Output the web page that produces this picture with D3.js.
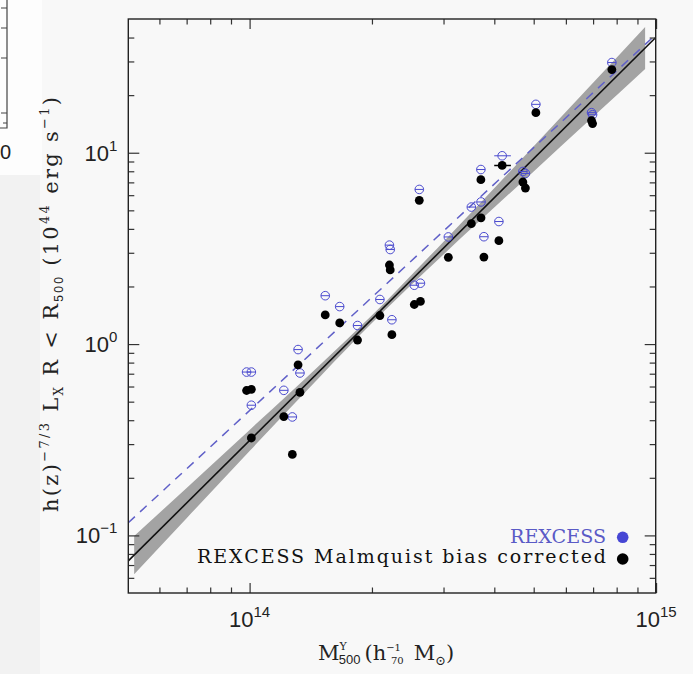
<!DOCTYPE html>
<html>
<head>
<meta charset="utf-8">
<script src="https://d3js.org/d3.v7.min.js"></script>
<style>
  body { margin: 0; background: #f8f8f8; }
  svg { display: block; }
  .serif { font-family: "DejaVu Serif", "Liberation Serif", serif; }
  .sans { font-family: "Liberation Sans", Arial, sans-serif; }
</style>
</head>
<body>
<svg id="chart" width="693" height="674"></svg>
<script>
// cluster mass M500 in units of 1e14 h70^-1 Msun
const massE14 = [7.785, 5.062, 6.938, 6.979, 4.182, 3.707, 4.703, 4.771, 2.615, 3.512,
                 3.710, 4.105, 3.771, 3.083, 2.208, 2.218, 2.542, 2.632, 2.092, 1.535,
                 1.666, 2.239, 1.843, 1.316, 1.330, 0.983, 1.010, 1.010, 1.214, 1.274]
// REXCESS luminosities (1e44 erg/s)
const lxRexcess = [29.6, 17.9, 16.2, 15.8, 9.64, 8.17, 7.98, 7.79, 6.43, 5.20,
                   5.53, 4.37, 3.64, 3.63, 3.29, 3.12, 2.03, 2.08, 1.71, 1.79,
                   1.57, 1.34, 1.25, 0.936, 0.706, 0.714, 0.714, 0.479, 0.573, 0.416]
// Malmquist bias corrected luminosities
const lxCorrected = [27.2, 16.2, 14.7, 14.2, 8.58, 7.23, 7.03, 6.54, 5.64, 4.26,
                     4.57, 3.47, 2.85, 2.84, 2.59, 2.44, 1.61, 1.67, 1.41, 1.42,
                     1.29, 1.12, 1.05, 0.779, 0.559, 0.572, 0.580, 0.323, 0.418, 0.265]
// the one visible horizontal error bar
const errIndex = 4
const errMass = [3.998, 4.394]

// fitted relations (end points)
const fitMass = [0.503, 9.98]
const fitCorrected = [0.0736, 40.0]
const fitRexcess = [0.1164, 41.4]

// confidence band of the corrected fit
const bandMass = [0.52, 0.7, 1, 1.5, 2, 3, 5, 7, 9.4]
const bandHi = [0.0993, 0.177, 0.356, 0.789, 1.413, 3.43, 10.8, 23.2, 45.4]
const bandLo = [0.0626, 0.123, 0.276, 0.686, 1.288, 2.94, 7.99, 15.4, 27.4]

// ticks
const xMajor = [1, 10]
const xMajorExp = ["14", "15"]
const xMinor = [0.6, 0.7, 0.8, 0.9, 2, 3, 4, 5, 6, 7, 8, 9]
const yMajor = [0.1, 1, 10]
const yMajorExp = ["\u22121", "0", "1"]
const yMinor = [0.06, 0.07, 0.08, 0.09, 0.2, 0.3, 0.4, 0.5, 0.6, 0.7, 0.8, 0.9,
                2, 3, 4, 5, 6, 7, 8, 9, 20, 30, 40]

const blue = "#4b4bcf"

let svg = d3.select("#chart")

let margin = { left: 128.3, top: 19, right: 693 - 655.7, bottom: 674 - 593 }
let width = 693 - margin.left - margin.right
let height = 674 - margin.top - margin.bottom

let x = d3.scaleLog().domain([0.503, 9.98]).range([0, width])
let y = d3.scaleLog().domain([0.05, 50]).range([height, 0])

// neighbouring panel remnant at the top left
svg.append("rect").attr("x", 0).attr("y", 175).attr("width", 40).attr("height", 499).attr("fill", "#f2f2f2")
svg.append("rect").attr("x", 0).attr("y", 0).attr("width", 42).attr("height", 175).attr("fill", "#fdfdfd")
svg.append("path")
    .attr("d", "M7,0V128H0M7,8H1M7,28H1M7,58H1M7,113H1M7,123H3")
    .attr("fill", "none").attr("stroke", "#444").attr("stroke-width", 1.2)
svg.append("text").attr("class", "sans").attr("x", 0).attr("y", 159)
    .attr("font-size", 20).attr("fill", "#222").text("0")

let body = svg.append("g").attr("transform", `translate(${margin.left},${margin.top})`)

body.append("defs").append("clipPath").attr("id", "clip")
    .append("rect").attr("width", width).attr("height", height)

let plot = body.append("g").attr("clip-path", "url(#clip)")

// band
let band = d3.area()
    .x((d, i) => x(bandMass[i]))
    .y0((d, i) => y(bandLo[i]))
    .y1((d, i) => y(bandHi[i]))
    .curve(d3.curveMonotoneX)
plot.append("path").datum(bandMass).attr("d", band).attr("fill", "#a3a3a3")

let fitLine = vals => d3.line()
    .x((d, i) => x(fitMass[i]))
    .y((d, i) => y(vals[i]))(fitMass)

plot.append("path").attr("d", fitLine(fitRexcess))
    .attr("fill", "none").attr("stroke", "#6060c8").attr("stroke-width", 1.5)
    .attr("stroke-dasharray", "9,7")
plot.append("path").attr("d", fitLine(fitCorrected))
    .attr("fill", "none").attr("stroke", "#111").attr("stroke-width", 1.6)

// REXCESS open symbols
let r = 4.3
let rex = plot.append("g").selectAll("g").data(massE14).join("g")
rex.append("circle")
    .attr("cx", d => x(d)).attr("cy", (d, i) => y(lxRexcess[i])).attr("r", r)
    .attr("fill", "none").attr("stroke", blue).attr("stroke-width", 1)
rex.append("line")
    .attr("x1", (d, i) => i === errIndex ? x(errMass[0]) : x(d) - r)
    .attr("x2", (d, i) => i === errIndex ? x(errMass[1]) : x(d) + r)
    .attr("y1", (d, i) => y(lxRexcess[i])).attr("y2", (d, i) => y(lxRexcess[i]))
    .attr("stroke", blue).attr("stroke-width", 1)

// corrected filled symbols
plot.append("line")
    .attr("x1", x(errMass[0])).attr("x2", x(errMass[1]))
    .attr("y1", y(lxCorrected[errIndex])).attr("y2", y(lxCorrected[errIndex]))
    .attr("stroke", "#000").attr("stroke-width", 1.5)
plot.append("g").selectAll("circle").data(massE14).join("circle")
    .attr("cx", d => x(d)).attr("cy", (d, i) => y(lxCorrected[i])).attr("r", 4.4)
    .attr("fill", "#000")

// axes: ticks inward on all four sides
function tickAxis(axisFn, scale, vals, size, tx, ty) {
    body.append("g").attr("transform", `translate(${tx},${ty})`)
        .call(axisFn(scale).tickValues(vals).tickSize(size).tickSizeOuter(0).tickFormat(""))
        .call(g => g.select(".domain").remove())
        .call(g => g.selectAll("line").attr("stroke", "#333").attr("stroke-width", 1.2))
}
tickAxis(d3.axisBottom, x, xMajor, -10, 0, height)
tickAxis(d3.axisBottom, x, xMinor, -5.5, 0, height)
tickAxis(d3.axisTop, x, xMajor, -10, 0, 0)
tickAxis(d3.axisTop, x, xMinor, -5.5, 0, 0)
tickAxis(d3.axisLeft, y, yMajor, -11, 0, 0)
tickAxis(d3.axisLeft, y, yMinor, -6, 0, 0)
tickAxis(d3.axisRight, y, yMajor, -11, width, 0)
tickAxis(d3.axisRight, y, yMinor, -6, width, 0)

body.append("rect").attr("width", width).attr("height", height)
    .attr("fill", "none").attr("stroke", "#222").attr("stroke-width", 1.4)

// tick labels
let xl = body.append("g").selectAll("text").data(xMajor).join("text")
    .attr("class", "sans").attr("x", d => x(d)).attr("y", height + 34)
    .attr("text-anchor", "middle").attr("font-size", 22).attr("fill", "#222")
xl.append("tspan").text("10")
xl.append("tspan").attr("dy", -10).attr("font-size", 15).text((d, i) => xMajorExp[i])

let yl = body.append("g").selectAll("text").data(yMajor).join("text")
    .attr("class", "sans").attr("x", -11).attr("y", d => y(d) + 8)
    .attr("text-anchor", "end").attr("font-size", 22).attr("fill", "#222")
yl.append("tspan").text("10")
yl.append("tspan").attr("dy", -10).attr("font-size", 15).text((d, i) => yMajorExp[i])

// axis titles
let xt = svg.append("text").attr("class", "serif").attr("x", 318).attr("y", 660)
    .attr("font-size", 21).attr("fill", "#222")
xt.append("tspan").text("M")
xt.append("tspan").attr("dy", -10).attr("font-size", 11).text("Y")
xt.append("tspan").attr("dx", -8).attr("dy", 14).attr("font-size", 13).attr("class", "sans").text("500")
xt.append("tspan").attr("dx", 4).attr("dy", -4).text("(h")
xt.append("tspan").attr("dy", -9).attr("font-size", 10).text("\u22121")
xt.append("tspan").attr("dx", -10).attr("dy", 13).attr("font-size", 10).text("70")
xt.append("tspan").attr("dx", 10).attr("dy", -4).text("M")
xt.append("tspan").attr("dy", 5).attr("font-size", 13).text("\u2299")
xt.append("tspan").attr("dy", -5).text(")")

let yt = svg.append("text").attr("class", "serif")
    .attr("transform", "translate(58,304.5) rotate(-90)")
    .attr("text-anchor", "middle").attr("font-size", 21).attr("fill", "#222")
    .attr("textLength", 415).attr("lengthAdjust", "spacing")
yt.append("tspan").text("h(z)")
yt.append("tspan").attr("dy", -9).attr("font-size", 13).text("\u22127/3")
yt.append("tspan").attr("dy", 9).text(" L")
yt.append("tspan").attr("dy", 5).attr("font-size", 12).text("X")
yt.append("tspan").attr("dy", -5).text(" R < R")
yt.append("tspan").attr("dy", 5).attr("font-size", 12).attr("class", "sans").text("500")
yt.append("tspan").attr("dy", -5).text(" (10")
yt.append("tspan").attr("dy", -9).attr("font-size", 13).text("44")
yt.append("tspan").attr("dy", 9).text(" erg s")
yt.append("tspan").attr("dy", -9).attr("font-size", 13).text("\u22121")
yt.append("tspan").attr("dy", 9).text(")")

// legend
svg.append("text").attr("class", "serif").attr("x", 606).attr("y", 543)
    .attr("text-anchor", "end").attr("font-size", 19).attr("fill", "#5a5ac6")
    .attr("textLength", 96).attr("lengthAdjust", "spacingAndGlyphs").text("REXCESS")
svg.append("circle").attr("cx", 622.7).attr("cy", 537.3).attr("r", 5.8).attr("fill", "#4646d4")
svg.append("text").attr("class", "serif").attr("x", 606).attr("y", 563.3)
    .attr("text-anchor", "end").attr("font-size", 19).attr("fill", "#111")
    .attr("textLength", 409).attr("lengthAdjust", "spacing").text("REXCESS Malmquist bias corrected")
svg.append("circle").attr("cx", 622.7).attr("cy", 559).attr("r", 5.8).attr("fill", "#000")
</script>
</body>
</html>
